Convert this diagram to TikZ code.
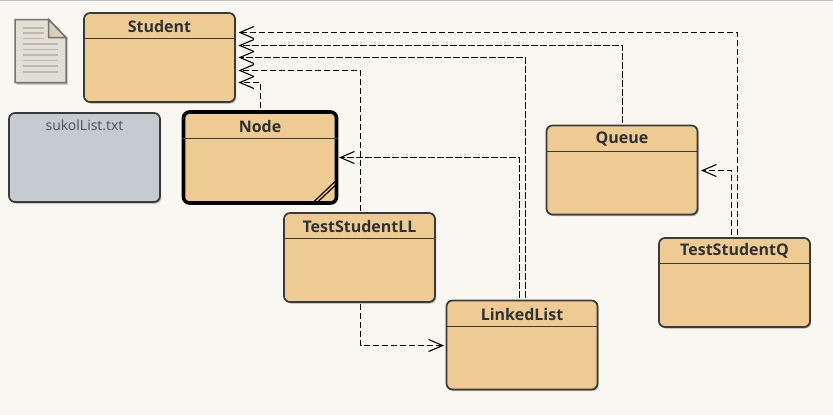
\documentclass[tikz,border=0pt]{standalone}
\usepackage{fontspec}
\setmainfont{Open Sans}
\usetikzlibrary{arrows.meta,shadows}
\definecolor{bgc}{HTML}{F8F7F2}
\definecolor{classc}{HTML}{EFCB94}
\definecolor{filec}{HTML}{C4CCCF}
\definecolor{edgec}{HTML}{3A3A3A}
\definecolor{textc}{HTML}{2E3136}
\definecolor{paperc}{HTML}{E2DFD4}
\definecolor{foldc}{HTML}{D8D0B8}
\definecolor{rulec}{HTML}{BDBAAB}
\tikzset{
  x=1pt,y=-1pt,
  softshadow/.style={general shadow={shadow xshift=1.2pt,shadow yshift=-1.5pt,fill=black,opacity=.3}},
  boxbase/.style={draw=edgec,line width=1.7pt,rounded corners=6pt,inner sep=0pt,softshadow},
  classbox/.style={boxbase,fill=classc,minimum width=151pt,minimum height=89pt},
  activebox/.style={draw=black,line width=3.6pt,rounded corners=6pt,inner sep=0pt,softshadow,fill=classc,minimum width=153pt,minimum height=91pt},
  filebox/.style={boxbase,fill=filec,minimum width=151pt,minimum height=89pt},
  titlelabel/.style={font=\fontsize{16}{18}\selectfont\bfseries,text=textc,inner sep=0pt,anchor=center},
  filelabel/.style={font=\fontsize{14}{17}\selectfont,text=textc!85!white,inner sep=0pt,anchor=center},
  headrule/.style={draw=edgec,line width=1.4pt},
  dep/.style={draw=black,line width=1.1pt,dash pattern=on 6.5pt off 2.5pt,
    -{Straight Barb[length=14pt,width=12pt,line width=1.1pt]}},
}
\begin{document}
\begin{tikzpicture}
\useasboundingbox (0,0) rectangle (833,415);
\fill[bgc] (0,0) rectangle (833,415);
\fill[black!25] (0,0) rectangle (833,1);

% document icon
\fill[black!30] (16.5,20.5) -- (49.5,20.5) -- (67.5,38) -- (67.5,84.5) -- (16.5,84.5) -- cycle;
\draw[fill=paperc,draw=black!55,line width=1.5pt] (15,19.5) -- (48.5,19.5) -- (66,37.5) -- (66,82.5) -- (15,82.5) -- cycle;
\draw[fill=foldc,draw=black!55,line width=1.5pt] (48.5,19.5) -- (66,37.5) -- (48.5,37.5) -- cycle;
\foreach \yy/\xe in {28/44,33/44,38.5/44,44/58,49.5/58,55/58,60.5/58,66/58,72/58}
  \draw[rulec,line width=1.4pt] (23,\yy) -- (\xe,\yy);

% boxes
\node[classbox] (student) at (159.5,57.5) {};
\node[filebox] (sukol) at (84.5,157.5) {};
\node[activebox] (node) at (260,157.5) {};
\node[classbox] (queue) at (622,170) {};
\node[classbox] (tsll) at (359.5,257.5) {};
\node[classbox] (ll) at (522,345) {};
\node[classbox] (tsq) at (734.5,282.5) {};

% titles
\node[titlelabel] (studentT) at (159.5,26) {Student};
\node[filelabel] (sukolT) at (84.5,125) {sukolList.txt};
\node[titlelabel] (nodeT) at (260,126) {Node};
\node[titlelabel] (queueT) at (622,139) {Queue};
\node[titlelabel] (tsllT) at (359.5,226) {TestStudentLL};
\node[titlelabel] (llT) at (522,314) {LinkedList};
\node[titlelabel] (tsqT) at (734.5,251) {TestStudentQ};

% compartment rules
\draw[headrule] (student.west |- 0,38.5) -- (student.east |- 0,38.5);
\draw[headrule] (node.west |- 0,138.5) -- (node.east |- 0,138.5);
\draw[headrule] (queue.west |- 0,151.5) -- (queue.east |- 0,151.5);
\draw[headrule] (tsll.west |- 0,238.5) -- (tsll.east |- 0,238.5);
\draw[headrule] (ll.west |- 0,326.5) -- (ll.east |- 0,326.5);
\draw[headrule] (tsq.west |- 0,263.5) -- (tsq.east |- 0,263.5);

% stale marker on Node
\draw[black,line width=1.2pt] (314,201.7) -- (335,181.5);
\draw[black,line width=1.2pt] (318,201.7) -- (335,185.5);

% connectors
\coordinate (s1) at (238.5,32.5);
\coordinate (s2) at (238.5,45.5);
\coordinate (s3) at (238.5,57.5);
\coordinate (s4) at (238.5,70.5);
\coordinate (s5) at (238.5,82.5);
\draw[dep,shorten <=2pt] (tsq.north -| 737.5,0) |- (s1);
\draw[dep,shorten <=2pt] (queue.north -| 622.5,0) |- (s2);
\draw[dep,shorten <=2pt] (ll.north -| 525.5,0) |- (s3);
\draw[dep,shorten <=1pt] (tsll.north -| 360.5,0) |- (s4);
\draw[dep,shorten <=2pt] (node.north -| 260.5,0) |- (s5);
\coordinate (n1) at (339,157.5);
\draw[dep,shorten <=2pt] (ll.north -| 519.5,0) |- (n1);
\coordinate (l1) at (444,345.5);
\draw[dep,shorten <=1pt] (tsll.south -| 360.5,0) |- (l1);
\coordinate (q1) at (701,170.5);
\draw[dep,shorten <=2pt] (tsq.north -| 731.5,0) |- (q1);
\end{tikzpicture}
\end{document}
